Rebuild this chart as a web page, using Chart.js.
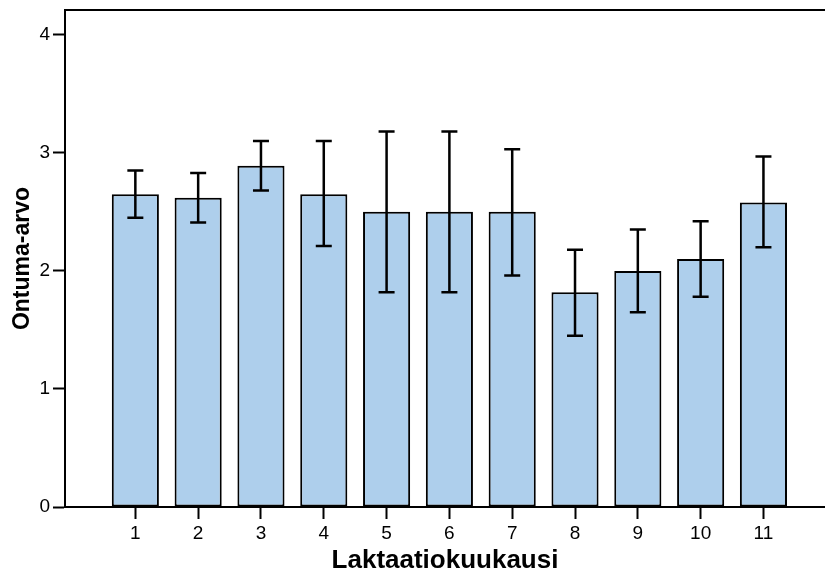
<!DOCTYPE html>
<html>
<head>
<meta charset="utf-8">
<script src="https://cdn.jsdelivr.net/npm/chart.js@4.4.1/dist/chart.umd.min.js"></script>
<style>
  body { margin: 0; background: #fff; }
  #wrap { width: 825px; height: 576px; }
</style>
</head>
<body>
<div id="wrap"><canvas id="bars" width="825" height="576"></canvas></div>
<script>
// lactation month, mean lameness score and error bar ends
const months = [1, 2, 3, 4, 5, 6, 7, 8, 9, 10, 11];
const means = [2.65, 2.62, 2.89, 2.65, 2.50, 2.50, 2.50, 1.82, 2.00, 2.10, 2.58];
const upper = [2.85, 2.83, 3.10, 3.10, 3.18, 3.18, 3.03, 2.18, 2.35, 2.42, 2.97];
const lower = [2.45, 2.41, 2.68, 2.21, 1.82, 1.82, 1.96, 1.45, 1.65, 1.78, 2.20];
const yTicks = [0, 1, 2, 3, 4];

const font = 'Liberation Sans, Arial, sans-serif';

// error bars with caps
const errorBars = {
    id: 'errorBars',
    afterDatasetsDraw(chart) {
        const ctx = chart.ctx;
        const xs = chart.scales.x, ys = chart.scales.y;
        ctx.save();
        ctx.strokeStyle = '#000';
        ctx.lineWidth = 2.5;
        months.forEach((m, i) => {
            const x = xs.getPixelForValue(m);
            const top = ys.getPixelForValue(upper[i]);
            const bot = ys.getPixelForValue(lower[i]);
            ctx.beginPath();
            ctx.moveTo(x, top); ctx.lineTo(x, bot);
            ctx.moveTo(x - 8, top); ctx.lineTo(x + 8, top);
            ctx.moveTo(x - 8, bot); ctx.lineTo(x + 8, bot);
            ctx.stroke();
        });
        ctx.restore();
    }
};

// frame line along the top of the plot
const topLine = {
    id: 'topLine',
    afterDraw(chart) {
        const a = chart.chartArea, ctx = chart.ctx;
        ctx.save();
        ctx.strokeStyle = '#000';
        ctx.lineWidth = 2;
        ctx.beginPath();
        ctx.moveTo(a.left, a.top);
        ctx.lineTo(a.right, a.top);
        ctx.stroke();
        ctx.restore();
    }
};

const ctx = document.getElementById('bars').getContext('2d');
const chart = new Chart(ctx, {
    type: 'bar',
    data: {
        datasets: [{
            label: 'Ontuma-arvo',
            data: months.map((m, i) => ({ x: m, y: means[i] })),
            backgroundColor: '#aecfec',
            borderColor: '#000',
            borderWidth: 2,
            borderSkipped: false,
            categoryPercentage: 1,
            barPercentage: 0.75
        }]
    },
    options: {
        responsive: false,
        animation: false,
        layout: { padding: { top: 10, right: 0, bottom: 0, left: 0 } },
        plugins: { legend: { display: false }, tooltip: { enabled: false } },
        scales: {
            x: {
                type: 'linear',
                min: -0.12,
                max: 11.98,
                offset: false,
                afterBuildTicks: s => { s.ticks = months.map(v => ({ value: v })); },
                afterFit: s => { s.height = 69; s.paddingLeft = 0; s.paddingRight = 0; },
                grid: { display: true, drawOnChartArea: false, offset: false, tickLength: 12, tickWidth: 2, tickColor: '#000' },
                border: { display: true, color: '#000', width: 2 },
                ticks: { color: '#000', font: { family: font, size: 19 }, padding: 3, maxRotation: 0 },
                title: { display: true, text: 'Laktaatiokuukausi', color: '#000', font: { family: font, size: 26, weight: 'bold' }, padding: { top: 0, bottom: 0 } }
            },
            y: {
                min: 0,
                max: 4.21,
                afterBuildTicks: s => { s.ticks = yTicks.map(v => ({ value: v })); },
                afterFit: s => { s.width = 65; s.paddingTop = 0; s.paddingBottom = 0; },
                grid: { display: true, drawOnChartArea: false, tickLength: 12, tickWidth: 2, tickColor: '#000' },
                border: { display: true, color: '#000', width: 2 },
                ticks: { color: '#000', font: { family: font, size: 19 }, padding: 3 },
                title: { display: true, text: 'Ontuma-arvo', color: '#000', font: { family: font, size: 23, weight: 'bold' }, padding: { top: 9, bottom: 0 } }
            }
        }
    },
    plugins: [errorBars, topLine]
});
</script>
</body>
</html>
